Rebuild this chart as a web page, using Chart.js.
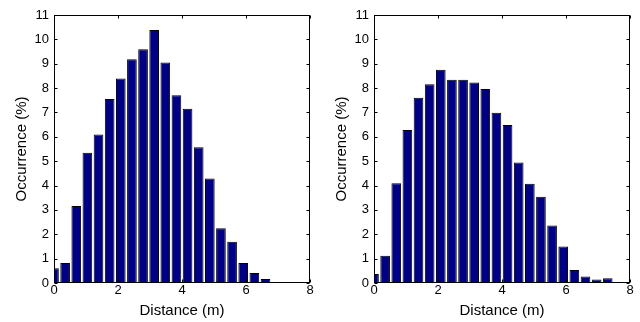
<!DOCTYPE html>
<html>
<head>
<meta charset="utf-8">
<script src="https://cdn.jsdelivr.net/npm/chart.js@4"></script>
<style>
  html, body { margin: 0; padding: 0; background: #fff; }
  .wrap { display: flex; width: 640px; height: 322px; }
  canvas { display: block; }
</style>
</head>
<body>
<div class="wrap">
  <canvas id="graficoEsq" width="320" height="322"></canvas>
  <canvas id="graficoDir" width="320" height="322"></canvas>
</div>
<script>
// centros das classes (m)
const centros = [0, 0.348, 0.696, 1.043, 1.391, 1.739, 2.087, 2.435, 2.783, 3.130, 3.478, 3.826,
                 4.174, 4.522, 4.870, 5.217, 5.565, 5.913, 6.261, 6.609, 6.957, 7.304, 7.652, 8.0];

// ocorrência (%) - gráfico da esquerda
const ocorrenciaEsq = [0.61, 0.82, 3.16, 5.35, 6.10, 7.55, 8.39, 9.18, 9.59, 10.38, 9.05, 7.71,
                       7.15, 5.57, 4.29, 2.25, 1.69, 0.82, 0.41, 0.16, 0.03, 0.01, 0.01, 0.01];

// ocorrência (%) - gráfico da direita
const ocorrenciaDir = [0.37, 1.12, 4.09, 6.28, 7.60, 8.16, 8.75, 8.34, 8.34, 8.23, 7.96, 6.99,
                       6.49, 4.95, 4.07, 3.54, 2.36, 1.50, 0.53, 0.27, 0.14, 0.20, 0.02, 0.02];

const fonte = "'Liberation Sans', Arial, Helvetica, sans-serif";

// moldura e marcas para dentro, estilo matlab
const moldura = {
    id: "moldura",
    afterDatasetsDraw(chart) {
        const { ctx, chartArea: a, scales: { x, y } } = chart;
        const l = Math.round(a.left) + 0.5, r = Math.round(a.right) - 0.5;
        const t = Math.round(a.top) + 0.5, b = Math.round(a.bottom) - 0.5;
        const tam = 3;
        ctx.save();
        ctx.strokeStyle = "#000";
        ctx.lineWidth = 1;
        ctx.beginPath();
        x.ticks.forEach((tk) => {
            const px = Math.round(x.getPixelForValue(tk.value)) + 0.5;
            ctx.moveTo(px, b); ctx.lineTo(px, b - tam);
            ctx.moveTo(px, t); ctx.lineTo(px, t + tam);
        });
        y.ticks.forEach((tk) => {
            const py = Math.round(y.getPixelForValue(tk.value)) + 0.5;
            ctx.moveTo(l, py); ctx.lineTo(l + tam, py);
            ctx.moveTo(r, py); ctx.lineTo(r - tam, py);
        });
        ctx.stroke();
        ctx.strokeRect(l, t, r - l, b - t);
        ctx.restore();
    },
};

function criarGrafico(id, valores) {
    return new Chart(document.getElementById(id), {
        type: "bar",
        data: {
            datasets: [
                {
                    data: centros.map((c, i) => ({ x: c, y: valores[i] })),
                    backgroundColor: "#000085",
                    borderColor: "#000",
                    borderWidth: 1,
                    barPercentage: 0.87,
                    categoryPercentage: 1,
                },
            ],
        },
        options: {
            responsive: false,
            animation: false,
            layout: { padding: { top: 15, right: 10, left: 0, bottom: 0 } },
            plugins: { legend: { display: false }, tooltip: { enabled: false } },
            scales: {
                x: {
                    type: "linear",
                    offset: false,
                    min: 0,
                    max: 8,
                    grid: { display: false, offset: false, drawTicks: false },
                    border: { display: false },
                    ticks: { stepSize: 2, padding: 0, color: "#000", font: { family: fonte, size: 13 } },
                    title: {
                        display: true,
                        text: "Distance (m)",
                        color: "#000",
                        font: { family: fonte, size: 15 },
                        padding: { top: 0, bottom: 2 },
                    },
                    afterFit: (eixo) => { eixo.height = 39; },
                },
                y: {
                    min: 0,
                    max: 11,
                    grid: { display: false, drawTicks: false },
                    border: { display: false },
                    ticks: { stepSize: 1, autoSkip: false, padding: 5, color: "#000", font: { family: fonte, size: 13 } },
                    title: {
                        display: true,
                        text: "Occurrence (%)",
                        color: "#000",
                        font: { family: fonte, size: 15 },
                        padding: { top: 13, bottom: 0 },
                    },
                    afterFit: (eixo) => { eixo.width = 54; },
                },
            },
        },
        plugins: [moldura],
    });
}

const graficoEsq = criarGrafico("graficoEsq", ocorrenciaEsq);
const graficoDir = criarGrafico("graficoDir", ocorrenciaDir);
</script>
</body>
</html>
